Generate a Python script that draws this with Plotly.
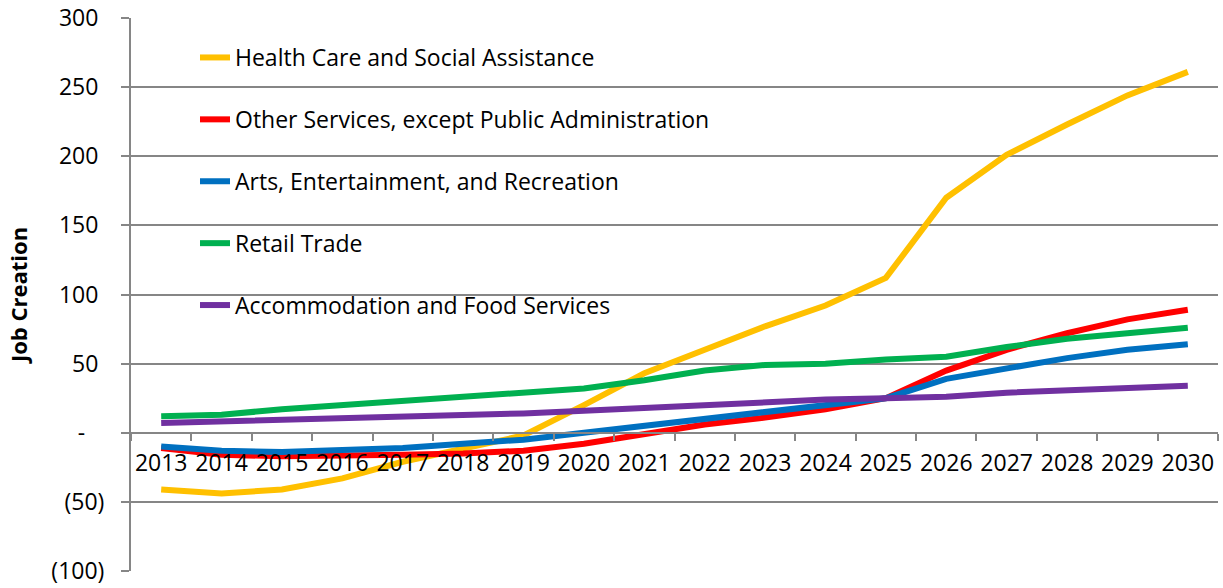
import plotly.graph_objects as go

years = [str(y) for y in range(2013, 2031)]

series_names = [
    "Health Care and Social Assistance",
    "Other Services, except Public Administration",
    "Arts, Entertainment, and Recreation",
    "Retail Trade",
    "Accommodation and Food Services",
]

health = [-41, -44, -41, -33, -21, -12, -2, 20, 43, 60, 77, 92, 112, 170, 201, 223, 244, 261]
other = [-11, -16, -17, -17, -16, -15, -13, -8, -1, 6, 11, 17, 25, 45, 60, 72, 82, 89]
arts = [-10, -13, -14, -13, -11, -8, -5, 0, 5, 10, 15, 20, 25, 39, 47, 54, 60, 64]
retail = [12, 13, 17, 20, 23, 26, 28, 32, 38, 45, 49, 50, 53, 55, 62, 68, 72, 76]
accom = [7, 8, 9, 10, 12, 13, 14, 16, 18, 21, 23, 24, 25, 26, 29, 31, 33, 34]

y_tickvals = [-100, -50, 0, 50, 100, 150, 200, 250, 300]
y_ticktext = ["(100)", "(50)", "-\u2007\u00a0", "50\u00a0", "100\u00a0", "150\u00a0",
              "200\u00a0", "250\u00a0", "300\u00a0"]

colors = ["#FFC000", "#FF0000", "#0070C0", "#00B050", "#7030A0"]
all_values = [health, other, arts, retail, accom]

FONT = "Open Sans"

fig = go.Figure()
for i, (name, vals, col) in enumerate(zip(series_names, all_values, colors)):
    fig.add_trace(go.Scatter(
        x=years, y=vals, name=name, mode="lines",
        line=dict(color=col, width=6),
        legendgroup=f"g{i}",
    ))

fig.update_layout(
    width=1223, height=588,
    margin=dict(l=131, r=5, t=18, b=17, autoexpand=False),
    paper_bgcolor="white", plot_bgcolor="white",
    font=dict(family=FONT, size=23, color="black"),
    showlegend=True,
    legend=dict(
        x=(195 - 131) / 1087, y=(571 - 36) / 553,
        xanchor="left", yanchor="top",
        bgcolor="rgba(0,0,0,0)",
        font=dict(family=FONT, size=23, color="black"),
        tracegroupgap=29,
        itemwidth=30,
    ),
    xaxis=dict(
        type="category",
        range=[-0.5, 17.5],
        anchor="free", position=0.25,
        showline=True, linecolor="#868686", linewidth=2,
        ticks="outside", ticklen=7, tickcolor="#868686", tickwidth=2,
        tickson="boundaries",
        tickangle=0,
        ticklabelstandoff=10,
        showgrid=False, zeroline=False,
        tickfont=dict(family=FONT, size=23, color="black"),
    ),
    yaxis=dict(
        range=[-100, 300],
        tickvals=y_tickvals, ticktext=y_ticktext,
        showline=True, linecolor="#868686", linewidth=2,
        ticks="outside", ticklen=8, tickcolor="#868686", tickwidth=2,
        ticklabelstandoff=12,
        showgrid=True, gridcolor="#868686", gridwidth=2,
        zeroline=False,
        tickfont=dict(family=FONT, size=23, color="black"),
        title=dict(text="<b>Job Creation</b>", font=dict(family=FONT, size=22, color="black"), standoff=18),
    ),
)

fig.write_html("out.html")
